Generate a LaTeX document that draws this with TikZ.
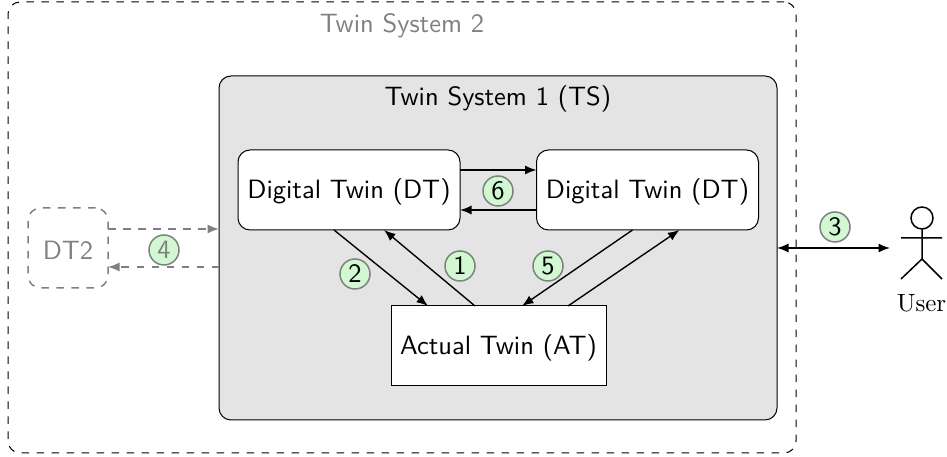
\documentclass[tikz,border=0pt]{standalone}
\usetikzlibrary{arrows.meta,shapes.geometric}
\def\pu{0.4pt}
\def\sfbig{\fontsize{10.6}{12.7}\selectfont\sffamily}
\definecolor{tsfill}{gray}{0.895}
\definecolor{numfill}{HTML}{D2F8D2}
\definecolor{faded}{gray}{0.5}
\tikzset{
  box/.style={draw,rounded corners=4.8pt,inner sep=0pt,outer sep=0pt,line width=0.4pt,font=\sfbig,align=center},
  twin/.style={box,fill=white,minimum width=222*\pu,minimum height=80*\pu,text height=9.5pt,text depth=2.7pt},
  ghost/.style={draw=faded,text=faded,dashed,line width=0.6pt},
  num/.style={circle,draw=gray,fill=numfill,line width=0.6pt,minimum size=30*\pu,inner sep=0pt,font=\sfbig},
  link/.style={line width=0.55pt,-{Latex[length=4.6pt,width=3.6pt]}},
  biglink/.style={line width=0.55pt,{Latex[length=4.6pt,width=3.6pt]}-{Latex[length=4.6pt,width=3.6pt]}},
  ghostlink/.style={link,draw=faded,dashed,line width=0.6pt},
}
\begin{document}
\begin{tikzpicture}[x=0.4pt,y=-0.4pt]
\useasboundingbox (0,0) rectangle (947,457);
\node[box,dashed,minimum width=788*\pu,minimum height=451*\pu] (ts2) at (402,227.5) {};
\node[text=faded,font=\sfbig,anchor=base] (ts2t) at (402,32.5) {Twin System 2};
\node[box,fill=tsfill,minimum width=558*\pu,minimum height=344*\pu] (ts1) at (498,248) {};
\node[font=\sfbig,anchor=base] (ts1t) at (498,105.5) {Twin System 1 (TS)};
\node[twin] (dtl) at (349,190) {Digital Twin (DT)};
\node[twin] (dtr) at (647.5,190) {Digital Twin (DT)};
\node[box,fill=white,rounded corners=0pt,minimum width=215*\pu,minimum height=80*\pu,text height=9.3pt,text depth=2.7pt] (at) at (498.5,346) {Actual Twin (AT)};
\node[box,ghost,rounded corners=5pt,minimum width=80*\pu,minimum height=80*\pu,text height=9pt,text depth=0pt] (dt2) at (68,248) {DT2};
% actor
\node[circle,draw,line width=0.6pt,minimum size=22*\pu,inner sep=0pt] (head) at (922,218) {};
\coordinate (hip) at (922,259);
\coordinate (shl) at (901,238);
\coordinate (shr) at (942,238);
\coordinate (fl) at (901,279);
\coordinate (fr) at (942,279);
\coordinate (hand) at (890,248);
\draw[line width=0.6pt] (head.south) -- (hip) (shl) -- (shr) (fl) -- (hip) -- (fr);
\node[anchor=base] (user) at (921.5,312) {User};
% connectors
\draw[link] ([yshift=20*\pu]dtl.east) -- ([yshift=20*\pu]dtr.west);
\draw[link] ([yshift=-20*\pu]dtr.west) -- ([yshift=-20*\pu]dtl.east);
\draw[link] ([xshift=96*\pu]dtl.south west) -- ([xshift=37*\pu]at.north west);
\draw[link] ([xshift=84*\pu]at.north west) -- ([xshift=146*\pu]dtl.south west);
\draw[link] ([xshift=96*\pu]dtr.south west) -- ([xshift=131*\pu]at.north west);
\draw[link] ([xshift=177*\pu]at.north west) -- ([xshift=143*\pu]dtr.south west);
\draw[biglink] (ts1.east) -- (hand);
\draw[ghostlink] ([yshift=19*\pu]dt2.east) -- ([yshift=19*\pu]ts1.west);
\draw[ghostlink] ([yshift=-19*\pu]ts1.west) -- ([yshift=-19*\pu]dt2.east);
% numbers
\node[num] (n1) at (460,266) {1};
\node[num] (n2) at (355,274) {2};
\node[num] (n3) at (835,227) {3};
\node[num,draw=faded,text=faded] (n4) at (164,250) {4};
\node[num] (n5) at (548,266) {5};
\node[num] (n6) at (498,191) {6};
\end{tikzpicture}
\end{document}
